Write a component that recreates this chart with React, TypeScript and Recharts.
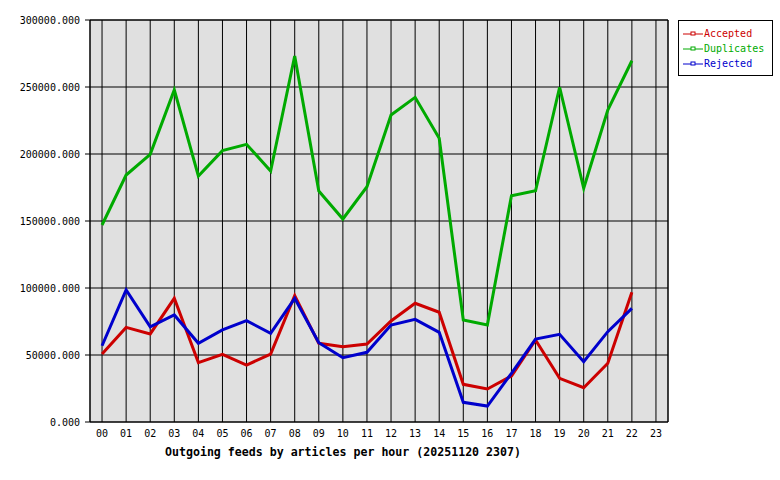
import { LineChart, Line, XAxis, YAxis, CartesianGrid, ReferenceLine, Label } from 'recharts';

const hours = ['00', '01', '02', '03', '04', '05', '06', '07', '08', '09', '10', '11',
  '12', '13', '14', '15', '16', '17', '18', '19', '20', '21', '22', '23'];

const accepted = [50700, 70600, 65700, 92300, 44300, 50500, 42500, 50700, 94300, 58700, 56200, 58200,
  75400, 88600, 81900, 28100, 24600, 34300, 61200, 32600, 25600, 43800, 96800, null];
const duplicates = [147000, 184300, 199800, 247800, 183600, 202500, 207200, 187300, 273100, 172400, 151500, 175600,
  229100, 242300, 211700, 76100, 72400, 168900, 172600, 249800, 174400, 232800, 269600, null];
const rejected = [56900, 98500, 71100, 79900, 58700, 68700, 75600, 66200, 92300, 59200, 48000, 52000,
  72400, 76600, 66900, 14700, 11900, 36300, 61900, 65400, 45000, 67400, 84800, null];

const yTicks = [0, 50000, 100000, 150000, 200000, 250000, 300000];

const series = [
  { key: 'Accepted', color: '#cc0000', values: accepted },
  { key: 'Duplicates', color: '#00aa00', values: duplicates },
  { key: 'Rejected', color: '#0000cc', values: rejected },
];

const data = hours.map((h, i) => ({
  hour: i,
  label: h,
  Accepted: accepted[i],
  Duplicates: duplicates[i],
  Rejected: rejected[i],
}));

const mono = '"DejaVu Sans Mono", "Liberation Mono", monospace';

// legend drawn as an overlay so it does not shrink the plot area
const LegendBox = () => (
  <div style={{ position: 'absolute', left: 678, top: 20, border: '1px solid #000', background: '#fff', width: 95, height: 56, boxSizing: 'border-box', padding: '5px 0 0 4px', fontFamily: mono, fontSize: 10 }}>
    {series.map((s) => (
      <div key={s.key} style={{ display: 'flex', alignItems: 'center', height: 15, color: s.color }}>
        <svg width={20} height={8} style={{ marginRight: 1 }}>
          <line x1={0} y1={4} x2={20} y2={4} stroke={s.color} strokeWidth={1} />
          <rect x={8} y={2} width={4} height={3} fill="#fff" stroke={s.color} strokeWidth={1} />
        </svg>
        <span>{s.key}</span>
      </div>
    ))}
  </div>
);

const App = () => {
  return (
    <div style={{ position: 'absolute', left: 0, top: 0, width: 780, height: 480, background: '#fff' }}>
      <LineChart width={780} height={480} data={data} margin={{ top: 20, right: 112, bottom: 28, left: 0 }}>
        <CartesianGrid fill="#e0e0e0" stroke="#000" strokeOpacity={1} />
        <XAxis
          dataKey="hour"
          type="number"
          domain={[-0.5, 23.5]}
          ticks={hours.map((_, i) => i)}
          tickFormatter={(v: number) => hours[v]}
          interval={0}
          height={30}
          tickSize={0}
          tickMargin={8}
          axisLine={{ stroke: '#000' }}
          tick={{ fill: '#000', fontFamily: mono, fontSize: 10 }}
        >
          <Label
            content={() => (
              <text x={165} y={456} fontFamily={mono} fontSize={11.6} fontWeight="bold" fill="#000">
                Outgoing feeds by articles per hour (20251120 2307)
              </text>
            )}
          />
        </XAxis>
        <YAxis
          width={90}
          domain={[0, 300000]}
          ticks={yTicks}
          interval={0}
          tickSize={5}
          tickMargin={5}
          tickFormatter={(v: number) => v.toFixed(3)}
          axisLine={{ stroke: '#000' }}
          tickLine={{ stroke: '#000' }}
          tick={{ fill: '#000', fontFamily: mono, fontSize: 10 }}
        />
        <ReferenceLine x={23.5} stroke="#000" />
        <ReferenceLine y={300000} stroke="#000" />
        {series.map((s) => (
          <Line
            key={s.key}
            dataKey={s.key}
            stroke={s.color}
            strokeWidth={3}
            dot={false}
            activeDot={false}
            isAnimationActive={false}
            connectNulls={false}
            strokeLinejoin="miter"
          />
        ))}
      </LineChart>
      <LegendBox />
    </div>
  );
};

export default App;
